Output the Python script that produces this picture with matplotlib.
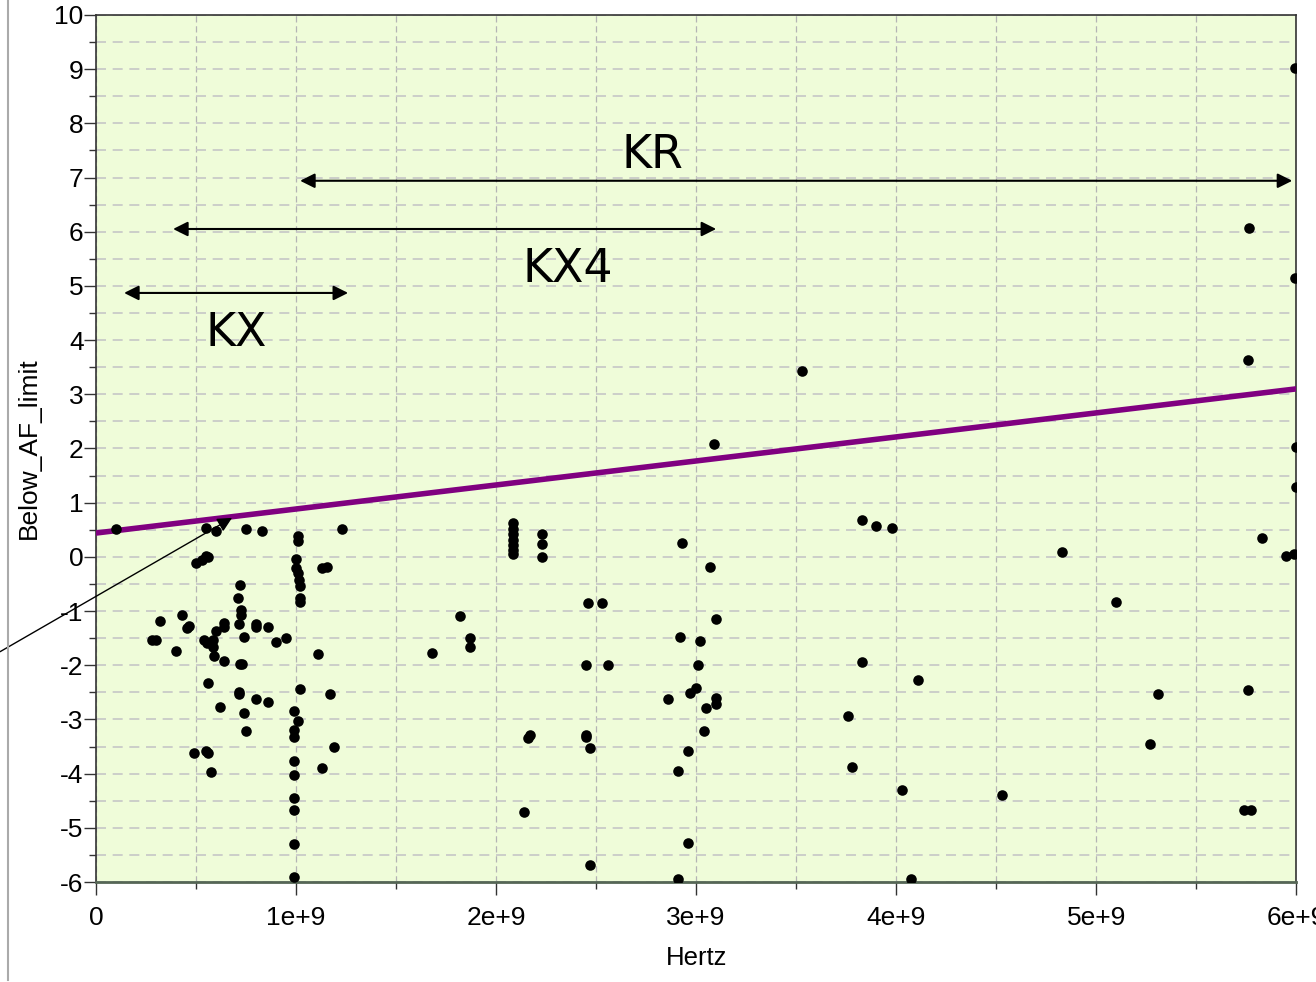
import matplotlib
matplotlib.use("Agg")
import matplotlib.pyplot as plt
from matplotlib.lines import Line2D
from matplotlib.ticker import MultipleLocator, FuncFormatter

plt.rcParams["axes.unicode_minus"] = False

# measured points: frequency (units of 1e9 Hz) and margin below the AF limit
freq_ghz = [
    0.10, 0.55, 0.60, 0.75, 0.83, 1.23, 1.01, 1.01,
    0.50, 0.53, 0.55, 0.56, 1.00, 1.00, 1.01, 1.015, 1.02, 1.02, 1.02,
    1.13, 1.155, 0.72, 0.71, 0.725, 0.725, 0.715, 0.64, 0.64, 0.60,
    0.80, 0.80, 0.86, 0.74, 0.95, 0.90, 0.32, 0.43, 0.465, 0.455,
    0.28, 0.30, 0.40, 0.54, 0.585, 0.555, 0.585, 0.59, 0.64, 0.72, 0.73,
    1.11, 0.56, 0.715, 0.715, 0.80, 0.86, 1.02, 1.17,
    0.62, 0.74, 0.99, 1.01, 0.99, 0.99, 0.75, 1.19, 0.49, 0.55, 0.56,
    0.99, 1.13, 0.575, 0.99, 0.99, 0.99, 0.99, 0.99,
    2.085, 2.085, 2.085, 2.085, 2.085, 2.085, 2.085, 2.23, 2.23, 2.23,
    2.93, 3.07, 2.46, 2.53, 1.82, 3.10, 1.87, 1.87, 1.68, 2.92, 3.02,
    2.45, 2.56, 3.01, 3.00, 2.97, 2.86, 3.10, 3.10, 3.05, 3.04,
    2.17, 2.16, 2.45, 2.45, 2.47, 2.96, 2.91, 2.14, 2.96, 2.47, 2.91,
    3.53, 5.765, 5.995, 5.995, 5.76, 6.00, 6.00, 3.09, 3.83, 3.90, 3.98,
    4.83, 5.83, 5.95, 5.99, 5.10, 3.83, 4.11, 3.76, 5.31, 5.76, 3.78,
    5.27, 4.03, 4.53, 5.74, 5.775, 4.075,
]
below_af = [
    0.52, 0.53, 0.48, 0.52, 0.48, 0.52, 0.38, 0.30,
    -0.11, -0.06, 0.02, 0.0, -0.04, -0.20, -0.29, -0.42, -0.53, -0.76, -0.83,
    -0.21, -0.18, -0.52, -0.76, -0.98, -1.07, -1.24, -1.22, -1.29, -1.36,
    -1.24, -1.29, -1.29, -1.47, -1.50, -1.58, -1.18, -1.07, -1.27, -1.31,
    -1.54, -1.54, -1.73, -1.53, -1.53, -1.59, -1.66, -1.83, -1.92, -1.98, -1.98,
    -1.79, -2.32, -2.49, -2.53, -2.63, -2.67, -2.44, -2.53,
    -2.77, -2.88, -2.84, -3.03, -3.19, -3.32, -3.21, -3.50, -3.61, -3.58, -3.61,
    -3.76, -3.90, -3.97, -4.02, -4.45, -4.68, -5.30, -5.90,
    0.63, 0.52, 0.42, 0.32, 0.22, 0.12, 0.06, 0.42, 0.24, 0.0,
    0.26, -0.18, -0.85, -0.85, -1.10, -1.14, -1.50, -1.66, -1.77, -1.47, -1.55,
    -1.99, -1.99, -1.99, -2.42, -2.51, -2.62, -2.60, -2.71, -2.79, -3.21,
    -3.28, -3.34, -3.28, -3.32, -3.52, -3.58, -3.95, -4.70, -5.28, -5.68, -5.94,
    3.43, 6.07, 9.02, 5.15, 3.63, 2.03, 1.29, 2.08, 0.68, 0.57, 0.53,
    0.09, 0.35, 0.02, 0.05, -0.83, -1.94, -2.27, -2.93, -2.53, -2.45, -3.87,
    -3.45, -4.30, -4.39, -4.67, -4.67, -5.94,
]

# AF limit line end points
limit_x = [0.0, 6.0]
limit_y = [0.44, 3.1]

# band ranges (start, end, y) and labels
bands = ["KR", "KX4", "KX"]
band_start = [1.02, 0.385, 0.14]
band_end = [5.98, 3.10, 1.26]
band_y = [6.94, 6.05, 4.87]
label_x = [2.78, 2.36, 0.70]
label_y = [7.4, 5.3, 4.13]

fig = plt.figure(figsize=(13.16, 9.82), dpi=100)
ax = fig.add_axes([0.073, 0.1018, 0.912, 0.883])
ax.set_facecolor("#effcd9")

ax.scatter([f * 1e9 for f in freq_ghz], below_af, s=58, color="black", zorder=4,
           linewidths=0)
ax.plot([x * 1e9 for x in limit_x], limit_y, color="#800080", lw=4, zorder=3)

for name, x0, x1, y, tx, ty in zip(bands, band_start, band_end, band_y, label_x, label_y):
    ax.annotate("", xy=(x1 * 1e9, y), xytext=(x0 * 1e9, y),
                arrowprops=dict(arrowstyle="<|-|>", color="black", lw=1.5,
                                mutation_scale=22, shrinkA=0, shrinkB=0))
    ax.text(tx * 1e9, ty, name, fontsize=33, family="DejaVu Sans",
            ha="center", va="center")

# pointer arrow coming in from the left edge
ax.annotate("", xy=(0.68e9, 0.72), xytext=(-0.48e9, -1.75),
            arrowprops=dict(arrowstyle="-|>", color="black", lw=1,
                            mutation_scale=22, shrinkA=0, shrinkB=0),
            annotation_clip=False)

ax.set_xlim(0, 6e9)
ax.set_ylim(-6, 10)
ax.xaxis.set_major_locator(MultipleLocator(1e9))
ax.xaxis.set_minor_locator(MultipleLocator(0.5e9))
ax.yaxis.set_major_locator(MultipleLocator(1))
ax.yaxis.set_minor_locator(MultipleLocator(0.5))
ax.xaxis.set_major_formatter(FuncFormatter(lambda v, p: "0" if v == 0 else "%de+9" % round(v / 1e9)))

ax.grid(True, which="both", axis="x", color="#b4b4b4", ls=(0, (5, 3)), lw=0.9)
ax.grid(True, which="both", axis="y", color="#c6c6c6", ls=(0, (6, 4)), lw=1.2)
ax.set_axisbelow(True)

ax.tick_params(which="major", length=9, width=1, color="#333333", labelsize=19)
ax.tick_params(axis="x", which="major", pad=8)
ax.tick_params(axis="y", which="major", pad=0)
ax.tick_params(which="minor", length=5, width=1, color="#333333")
for lab in ax.get_xticklabels() + ax.get_yticklabels():
    lab.set_family("Liberation Sans")
for side in ax.spines:
    ax.spines[side].set_color("#333333")
    ax.spines[side].set_linewidth(1.2)
ax.spines["bottom"].set_color("#556655")
ax.spines["bottom"].set_linewidth(2)

ax.set_xlabel("Hertz", fontsize=18.5, family="Liberation Sans", labelpad=12)
ax.set_ylabel("Below_AF_limit", fontsize=19, family="Liberation Sans", labelpad=10)

fig.add_artist(Line2D([8 / 1316, 8 / 1316], [0.002, 1.0], color="#aaaaaa", lw=1.5))

fig.savefig("out.png", dpi=100)
